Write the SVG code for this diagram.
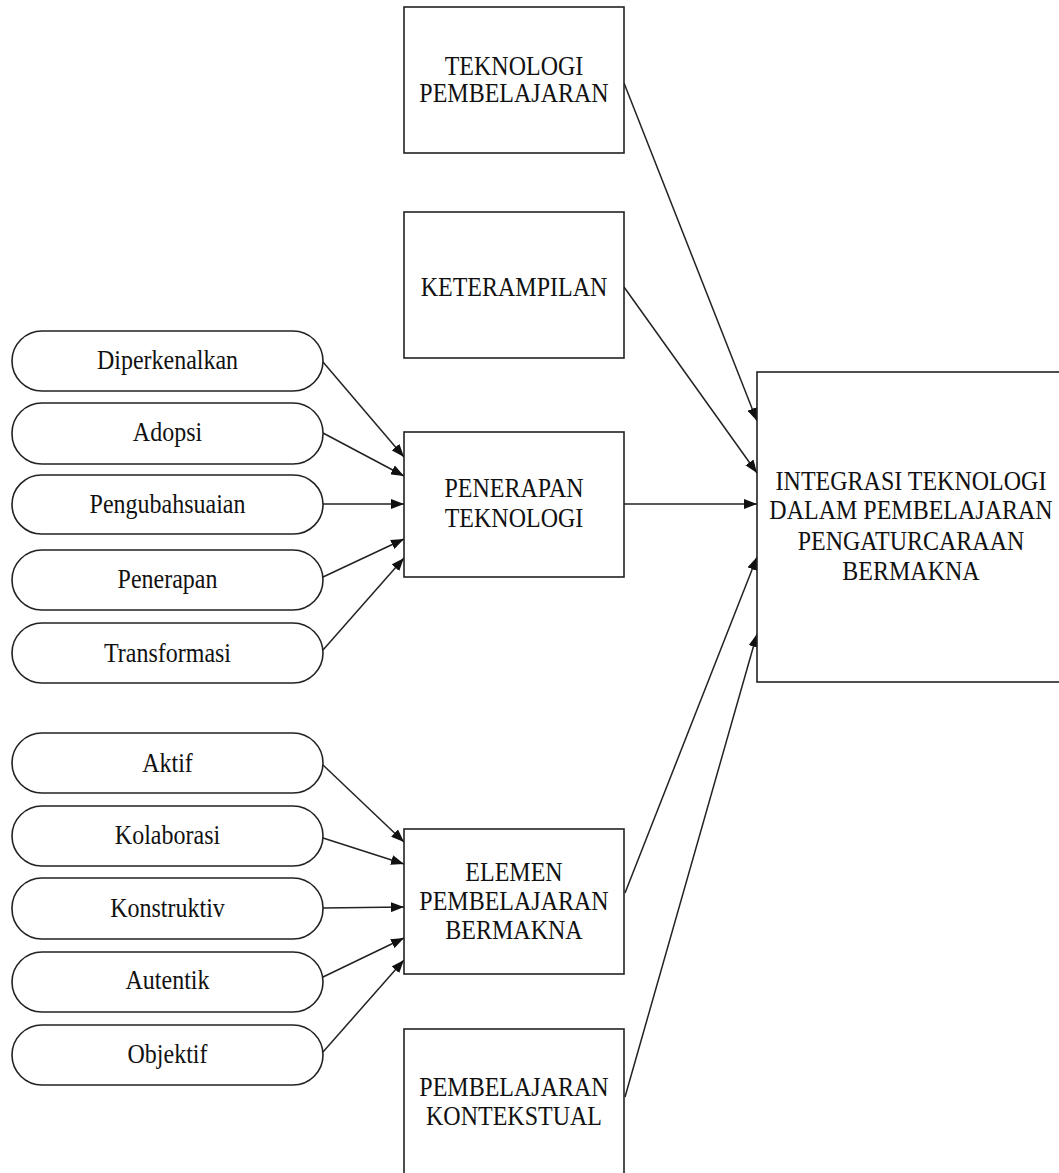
<svg xmlns="http://www.w3.org/2000/svg" width="1059" height="1173" viewBox="0 0 1059 1173">
<style>
.box{fill:#fff;stroke:#222;stroke-width:1.6}
.pill{fill:#fff;stroke:#222;stroke-width:1.6}
.t{font-family:"Liberation Serif","Times New Roman",serif;font-size:24px;fill:#111;text-anchor:middle}
.c{stroke:#222;stroke-width:1.5;fill:none;marker-end:url(#ah)}
</style>
<defs>
<marker id="ah" markerWidth="13" markerHeight="10" refX="13" refY="5" orient="auto" markerUnits="userSpaceOnUse">
<path d="M0,0 L13,5 L0,10 z" fill="#111"/>
</marker>
</defs>
<rect width="1059" height="1173" fill="#fff"/>

<g id="connectors">
<line class="c" x1="624" y1="83" x2="757" y2="421"/>
<line class="c" x1="624" y1="287" x2="757" y2="473"/>
<line class="c" x1="624" y1="504" x2="757" y2="504"/>
<line class="c" x1="625" y1="893" x2="757" y2="557"/>
<line class="c" x1="625" y1="1097" x2="757" y2="634"/>
<line class="c" x1="323" y1="362" x2="404" y2="457"/>
<line class="c" x1="323" y1="433" x2="404" y2="476"/>
<line class="c" x1="323" y1="504" x2="404" y2="504"/>
<line class="c" x1="323" y1="577" x2="404" y2="539"/>
<line class="c" x1="323" y1="650" x2="404" y2="558"/>
<line class="c" x1="323" y1="765" x2="404" y2="842"/>
<line class="c" x1="323" y1="838" x2="404" y2="864"/>
<line class="c" x1="323" y1="908" x2="404" y2="907"/>
<line class="c" x1="323" y1="977" x2="404" y2="938"/>
<line class="c" x1="323" y1="1052" x2="404" y2="960"/>
</g>

<g id="teknologi-pembelajaran">
<rect class="box" x="404" y="7" width="220" height="146"/>
<text class="t" transform="matrix(1,0,0,1.1,514,75)">TEKNOLOGI</text>
<text class="t" transform="matrix(1,0,0,1.1,514,102)">PEMBELAJARAN</text>
</g>
<g id="keterampilan">
<rect class="box" x="404" y="212" width="220" height="146"/>
<text class="t" transform="matrix(1,0,0,1.1,514,296)">KETERAMPILAN</text>
</g>
<g id="penerapan-teknologi">
<rect class="box" x="404" y="432" width="220" height="145"/>
<text class="t" transform="matrix(1,0,0,1.1,514,497)">PENERAPAN</text>
<text class="t" transform="matrix(1,0,0,1.1,514,527)">TEKNOLOGI</text>
</g>
<g id="integrasi">
<rect class="box" x="757" y="372" width="310" height="310"/>
<text class="t" transform="matrix(1,0,0,1.1,911,490)">INTEGRASI TEKNOLOGI</text>
<text class="t" transform="matrix(1,0,0,1.1,911,519)">DALAM PEMBELAJARAN</text>
<text class="t" transform="matrix(1,0,0,1.1,911,550)">PENGATURCARAAN</text>
<text class="t" transform="matrix(1,0,0,1.1,911,580)">BERMAKNA</text>
</g>
<g id="elemen">
<rect class="box" x="404" y="829" width="220" height="145"/>
<text class="t" transform="matrix(1,0,0,1.1,514,881)">ELEMEN</text>
<text class="t" transform="matrix(1,0,0,1.1,514,910)">PEMBELAJARAN</text>
<text class="t" transform="matrix(1,0,0,1.1,514,939)">BERMAKNA</text>
</g>
<g id="kontekstual">
<rect class="box" x="404" y="1029" width="220" height="160"/>
<text class="t" transform="matrix(1,0,0,1.1,514,1096)">PEMBELAJARAN</text>
<text class="t" transform="matrix(1,0,0,1.1,514,1125)">KONTEKSTUAL</text>
</g>

<g id="diperkenalkan"><rect class="pill" x="12" y="331" width="311" height="60" rx="30"/><text class="t" transform="matrix(1,0,0,1.1,167.5,369)">Diperkenalkan</text></g>
<g id="adopsi"><rect class="pill" x="12" y="403" width="311" height="61" rx="30"/><text class="t" transform="matrix(1,0,0,1.1,167.5,441)">Adopsi</text></g>
<g id="pengubahsuaian"><rect class="pill" x="12" y="475" width="311" height="59" rx="29.5"/><text class="t" transform="matrix(1,0,0,1.1,167.5,513)">Pengubahsuaian</text></g>
<g id="penerapan"><rect class="pill" x="12" y="550" width="311" height="60" rx="30"/><text class="t" transform="matrix(1,0,0,1.1,167.5,588)">Penerapan</text></g>
<g id="transformasi"><rect class="pill" x="12" y="623" width="311" height="60" rx="30"/><text class="t" transform="matrix(1,0,0,1.1,167.5,662)">Transformasi</text></g>

<g id="aktif"><rect class="pill" x="12" y="733" width="311" height="60" rx="30"/><text class="t" transform="matrix(1,0,0,1.1,167.5,772)">Aktif</text></g>
<g id="kolaborasi"><rect class="pill" x="12" y="806" width="311" height="60" rx="30"/><text class="t" transform="matrix(1,0,0,1.1,167.5,844)">Kolaborasi</text></g>
<g id="konstruktiv"><rect class="pill" x="12" y="878" width="311" height="61" rx="30"/><text class="t" transform="matrix(1,0,0,1.1,167.5,917)">Konstruktiv</text></g>
<g id="autentik"><rect class="pill" x="12" y="952" width="311" height="60" rx="30"/><text class="t" transform="matrix(1,0,0,1.1,167.5,989)">Autentik</text></g>
<g id="objektif"><rect class="pill" x="12" y="1025" width="311" height="60" rx="30"/><text class="t" transform="matrix(1,0,0,1.1,167.5,1063)">Objektif</text></g>
</svg>
